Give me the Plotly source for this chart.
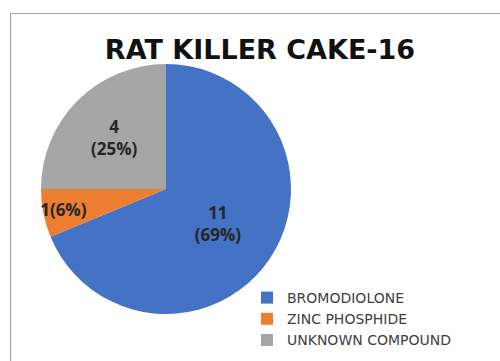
import plotly.graph_objects as go

title = "RAT KILLER CAKE-16"
categories = ["BROMODIOLONE", "ZINC PHOSPHIDE", "UNKNOWN COMPOUND"]
values = [11, 1, 4]
slice_labels = ["11<br>(69%)", "1(6%)", "4<br>(25%)"]
colors = ["#4472C4", "#ED7D31", "#A5A5A5"]

W, H = 500, 361
cx, cy, d = 166, 189, 250

fig = go.Figure(go.Pie(
    labels=categories,
    values=values,
    text=slice_labels,
    texttemplate="%{text}",
    textinfo="text",
    textposition="inside",
    insidetextorientation="horizontal",
    sort=False,
    direction="clockwise",
    rotation=0,
    marker=dict(colors=colors, line=dict(width=0)),
    textfont=dict(family="Open Sans", size=17, color="#262626", weight="bold"),
    hoverinfo="label+value+percent",
    domain=dict(x=[(cx - d / 2) / W, (cx + d / 2) / W],
                y=[(H - cy - d / 2) / H, (H - cy + d / 2) / H]),
))

fig.update_layout(
    width=W, height=H,
    margin=dict(l=0, r=0, t=0, b=0),
    paper_bgcolor="white",
    plot_bgcolor="white",
    uniformtext=dict(minsize=17, mode="show"),
    title=dict(text=f"<b>{title}</b>", x=0.52, xanchor="center",
               y=1 - 50 / H, yanchor="middle",
               font=dict(family="DejaVu Sans", size=27, color="#111111")),
    legend=dict(x=247 / W, xanchor="left", y=1 - 282 / H, yanchor="top",
                font=dict(family="DejaVu Sans", size=14, color="#404040"),
                itemwidth=30, tracegroupgap=0, bgcolor="rgba(0,0,0,0)"),
    shapes=[dict(type="rect", xref="paper", yref="paper",
                 x0=10.5 / W, x1=1.02, y0=-0.02, y1=1 - 13.5 / H,
                 line=dict(color="#A6A6A6", width=1.2), layer="below")],
)

fig.write_html("out.html")
